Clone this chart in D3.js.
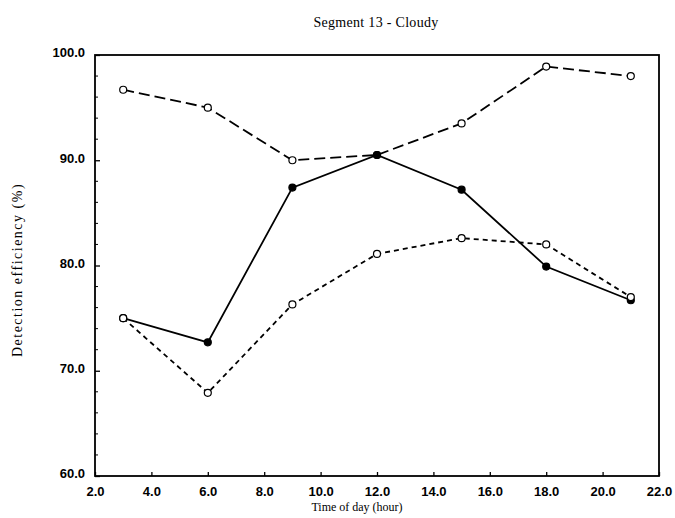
<!DOCTYPE html>
<html>
<head>
<meta charset="utf-8">
<script src="https://cdn.jsdelivr.net/npm/d3@7"></script>
<style>
  body { margin: 0; background: #fff; }
  svg { display: block; }
  .tick text { font-family: "Liberation Sans", Arial, sans-serif; font-weight: bold; font-size: 13px; }
</style>
</head>
<body>
<div id="chart"></div>
<script>
// values
var hours = [3, 6, 9, 12, 15, 18, 21];
var upperSeries = [96.7, 95.0, 90.0, 90.5, 93.5, 98.9, 98.0];   // long dashes, open circles
var solidSeries = [75.0, 72.7, 87.4, 90.5, 87.2, 79.9, 76.7];   // solid, filled circles
var lowerSeries = [75.0, 67.9, 76.3, 81.1, 82.6, 82.0, 77.0];   // short dashes, open circles
var xTicks = [2, 4, 6, 8, 10, 12, 14, 16, 18, 20, 22];
var yTicks = [60, 70, 80, 90, 100];

var width = 675, height = 518;
var margin = {top: 55, right: 16, bottom: 42, left: 95};

var svg = d3.select("#chart").append("svg")
    .attr("width", width)
    .attr("height", height);

var x = d3.scaleLinear().domain([2, 22]).range([margin.left, width - margin.right]);
var y = d3.scaleLinear().domain([60, 100]).range([height - margin.bottom, margin.top]);

// frame
svg.append("rect")
    .attr("x", x(2)).attr("y", y(100))
    .attr("width", x(22) - x(2)).attr("height", y(60) - y(100))
    .attr("fill", "none").attr("stroke", "#000").attr("stroke-width", 1.8);

// axes, ticks point inward
var xAxis = svg.append("g")
    .attr("transform", "translate(0," + y(60) + ")")
    .call(d3.axisBottom(x).tickValues(xTicks).tickFormat(d3.format(".1f")).tickSize(-4).tickPadding(8));
var yAxis = svg.append("g")
    .attr("transform", "translate(" + x(2) + ",0)")
    .call(d3.axisLeft(y).tickValues(yTicks).tickFormat(d3.format(".1f")).tickSize(-5).tickPadding(10));
[xAxis, yAxis].forEach(function (g) {
    g.select(".domain").remove();
    g.selectAll(".tick line").attr("stroke", "#000").attr("stroke-width", 1.3);
    g.selectAll(".tick text").attr("fill", "#000");
});
xAxis.selectAll(".tick text").attr("dy", "0.9em");
yAxis.selectAll(".tick text").attr("dy", "0.15em");

// minor ticks on y
var minorY = d3.range(62, 100, 2).filter(function (d) { return d % 10 !== 0; });
svg.append("g").selectAll("line").data(minorY).enter().append("line")
    .attr("x1", x(2)).attr("x2", x(2) + 3)
    .attr("y1", function (d) { return y(d); }).attr("y2", function (d) { return y(d); })
    .attr("stroke", "#000").attr("stroke-width", 1);

var serif = "'Liberation Serif', 'Times New Roman', serif";

// title and axis labels
svg.append("text")
    .attr("x", 376).attr("y", 27)
    .attr("text-anchor", "middle")
    .style("font-family", serif)
    .style("font-size", "14px")
    .style("letter-spacing", "0.3px")
    .text("Segment 13 - Cloudy");

svg.append("text")
    .attr("x", 357).attr("y", 511)
    .attr("text-anchor", "middle")
    .style("font-family", serif)
    .style("font-size", "12px")
    .text("Time of day (hour)");

svg.append("text")
    .attr("transform", "translate(22,270) rotate(-90)")
    .attr("text-anchor", "middle")
    .style("font-family", serif)
    .style("font-size", "14px")
    .style("letter-spacing", "1.5px")
    .text("Detection efficiency (%)");

// lines
var line = d3.line()
    .x(function (d) { return x(d[0]); })
    .y(function (d) { return y(d[1]); });

function drawSeries(values, dash, filled) {
    var pts = hours.map(function (h, i) { return [h, values[i]]; });
    svg.append("path")
        .datum(pts)
        .attr("d", line)
        .attr("fill", "none")
        .attr("stroke", "#000")
        .attr("stroke-width", 1.8)
        .attr("stroke-dasharray", dash);
    svg.append("g").selectAll("circle").data(pts).enter().append("circle")
        .attr("cx", function (d) { return x(d[0]); })
        .attr("cy", function (d) { return y(d[1]); })
        .attr("r", 3.5)
        .attr("fill", filled ? "#000" : "#fff")
        .attr("stroke", "#000")
        .attr("stroke-width", 1.2);
}

drawSeries(upperSeries, "11,5", false);
drawSeries(solidSeries, null, true);
drawSeries(lowerSeries, "5,4", false);
</script>
</body>
</html>
